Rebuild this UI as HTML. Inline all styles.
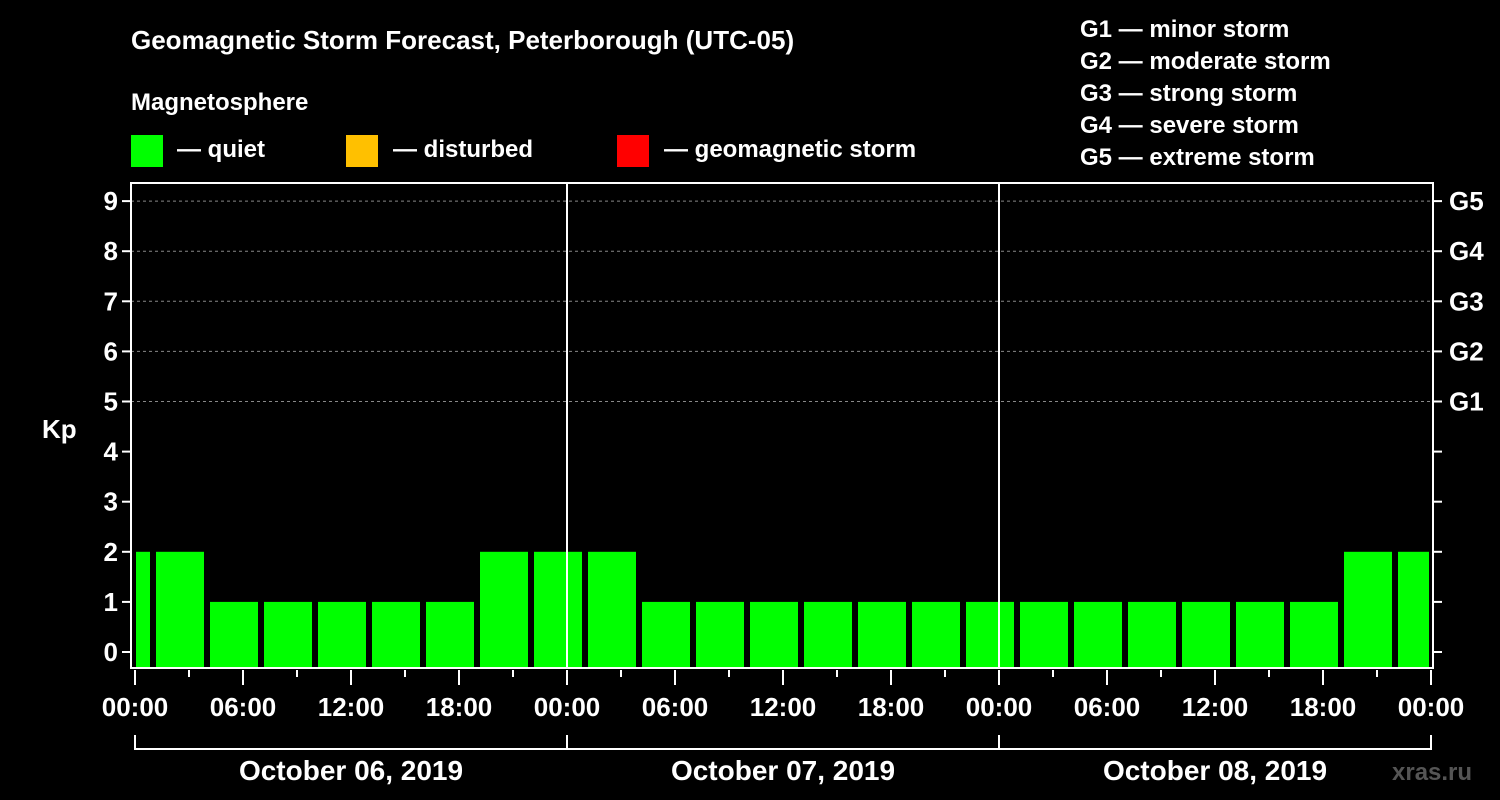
<!DOCTYPE html>
<html><head><meta charset="utf-8"><style>
body{margin:0;background:#000;}
svg{display:block;font-family:"Liberation Sans",Arial,sans-serif;font-weight:bold;}
</style></head><body>
<svg id="chart" width="1500" height="800" viewBox="0 0 1500 800">
<rect width="1500" height="800" fill="#000"/>
<text x="131" y="49" fill="#fff" font-size="26">Geomagnetic Storm Forecast, Peterborough (UTC-05)</text>
<text x="131" y="110" fill="#fff" font-size="24">Magnetosphere</text>
<g><rect x="131" y="135" width="32" height="32" fill="#00ff00"/><text x="177" y="157" fill="#fff" font-size="24">— quiet</text></g>
<g><rect x="346" y="135" width="32" height="32" fill="#ffc000"/><text x="393" y="157" fill="#fff" font-size="24">— disturbed</text></g>
<g><rect x="617" y="135" width="32" height="32" fill="#ff0000"/><text x="664" y="157" fill="#fff" font-size="24">— geomagnetic storm</text></g>
<g fill="#fff" font-size="24">
<text x="1080" y="37">G1 — minor storm</text>
<text x="1080" y="69">G2 — moderate storm</text>
<text x="1080" y="101">G3 — strong storm</text>
<text x="1080" y="133">G4 — severe storm</text>
<text x="1080" y="165">G5 — extreme storm</text>
</g>
<text x="42" y="438" fill="#fff" font-size="26">Kp</text>
<text x="1392" y="780" fill="#555" font-size="24">xras.ru</text>
<g id="plot"></g>
</svg>
<script>
const yTicks=[0,1,2,3,4,5,6,7,8,9];
const gLabels=["G1","G2","G3","G4","G5"];
const gLevels=[5,6,7,8,9];
const dayLabels=["October 06, 2019","October 07, 2019","October 08, 2019"];
const binStartHours=[-2,1,4,7,10,13,16,19,22,25,28,31,34,37,40,43,46,49,52,55,58,61,64,67,70];
const kpValues=[2,2,1,1,1,1,1,2,2,2,1,1,1,1,1,1,1,1,1,1,1,1,1,2,2];
const X0=135,PXH=18,Y0=652,PXK=50.1,LEFT=131,RIGHT=1433,TOP=183,BOT=668,END=72;
const x=h=>X0+h*PXH, y=k=>Y0-k*PXK;
const NS="http://www.w3.org/2000/svg";
const plot=document.getElementById('plot');
function mk(t,a){const e=document.createElementNS(NS,t);for(const k in a)e.setAttribute(k,a[k]);plot.appendChild(e);return e;}
// grid
gLevels.forEach(k=>{const l=mk('line',{x1:LEFT,x2:RIGHT,y1:y(k),y2:y(k),stroke:'#888','stroke-dasharray':'3,3','stroke-width':1});

});
// bars
binStartHours.forEach((h,i)=>{const s=Math.max(h*PXH+X0+3,X0+1),e=Math.min(h*PXH+X0+51,x(END)-2);
const k=kpValues[i];const c=k>=5?'#ff0000':(k>=4?'#ffc000':'#00ff00');
const r=mk('rect',{x:s,y:y(k),width:e-s,height:BOT-y(k),fill:c});

});
// day separators
[24,48].forEach(h=>{const l=mk('line',{x1:x(h),x2:x(h),y1:TOP,y2:BOT,stroke:'#fff','stroke-width':2});

});
// frame
const f=mk('rect',{x:LEFT,y:TOP,width:RIGHT-LEFT,height:BOT-TOP,fill:'none',stroke:'#fff','stroke-width':2});


// y ticks
yTicks.forEach(k=>{mk('line',{x1:LEFT-9,x2:LEFT,y1:y(k),y2:y(k),stroke:'#fff','stroke-width':2});
mk('line',{x1:RIGHT,x2:RIGHT+9,y1:y(k),y2:y(k),stroke:'#fff','stroke-width':2});
const t=mk('text',{x:LEFT-13,y:y(k)+9,fill:'#fff','font-size':26,'text-anchor':'end'});t.textContent=k;

});
gLabels.forEach((g,i)=>{const t=mk('text',{x:RIGHT+16,y:y(gLevels[i])+9,fill:'#fff','font-size':26});t.textContent=g;

});
// x ticks
for(let h=0;h<=END;h+=3){const maj=h%6===0;mk('line',{x1:x(h),x2:x(h),y1:BOT+2,y2:BOT+(maj?17:9),stroke:'#fff','stroke-width':2});
if(maj&&h%24!==0||h%24===0){if(h%12===0||h%6===0){if(h%12===0||true){}}}
if(h%18===0||h%24===0){}
}
for(let h=0;h<=END;h+=6){if(h%6!==0)continue;const hh=h%24;if(hh%6!==0)continue;
if([0,6,12,18].includes(hh)){const t=mk('text',{x:x(h),y:716,fill:'#fff','font-size':26,'text-anchor':'middle'});t.textContent=String(hh).padStart(2,'0')+':00';

}}
// day brackets
dayLabels.forEach((d,i)=>{const a=x(i*24),b=x(i*24+24);
mk('polyline',{points:`${a},735 ${a},749 ${b},749 ${b},735`,fill:'none',stroke:'#fff','stroke-width':2});
const t=mk('text',{x:(a+b)/2,y:780,fill:'#fff','font-size':28,'text-anchor':'middle'});t.textContent=d;

});
</script>
</body></html>
